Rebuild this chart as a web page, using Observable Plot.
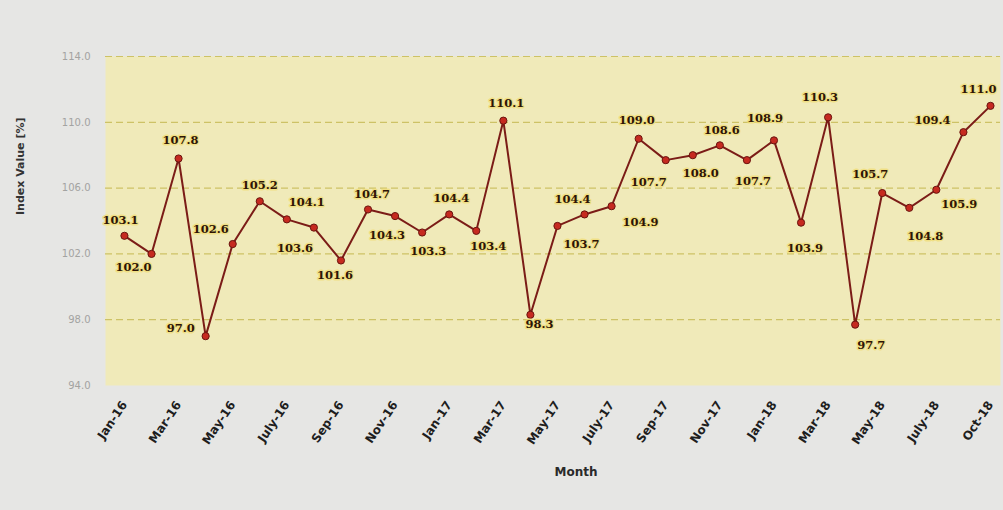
<!DOCTYPE html>
<html><head><meta charset="utf-8">
<script src="https://cdn.jsdelivr.net/npm/d3@7"></script>
<script src="https://cdn.jsdelivr.net/npm/@observablehq/plot@0.6"></script>
<style>
html,body{margin:0;padding:0;background:#e6e6e4;}
#chart{width:1003px;height:510px;position:relative;}
</style></head><body><div id="chart"></div>
<script>
// Monthly index values (33 months)
const values = [103.1, 102.0, 107.8, 97.0, 102.6, 105.2, 104.1, 103.6, 101.6, 104.7, 104.3, 103.3, 104.4, 103.4, 110.1, 98.3, 103.7, 104.4, 104.9, 109.0, 107.7, 108.0, 108.6, 107.7, 108.9, 103.9, 110.3, 97.7, 105.7, 104.8, 105.9, 109.4, 111.0];
// Tick labels shown on every second month
const tickLabels = ["Jan-16", "Mar-16", "May-16", "July-16", "Sep-16", "Nov-16", "Jan-17", "Mar-17", "May-17", "July-17", "Sep-17", "Nov-17", "Jan-18", "Mar-18", "May-18", "July-18", "Oct-18"];
const yTicks = [94, 98, 102, 106, 110, 114];
// Label placement offsets relative to each point
const labelDx = [-4, -18, 2, -25, -22, 0, 20, -19, -6, 4, -8, 6, 2, 12, 3, 9, 24, -12, 29, -2, -17, 8, 2, 6, -9, 4, -8, 16, -12, 16, 23, -31, -12];
const labelDy = [-15, 13, -18, -8, -15, -16, -17, 21, 15, -15, 19, 19, -16, 15, -17, 10, 18, -15, 16, -18, 22, 18, -15, 21, -22, 26, -20, 21, -19, 28, 15, -12, -17];

const idx = d3.range(values.length);

const labelMarks = idx.map(i => Plot.text([i], {
  x: d => d, y: d => values[d], text: d => values[d].toFixed(1),
  dx: labelDx[i], dy: labelDy[i],
  fontFamily: "DejaVu Serif", fontWeight: "bold", fontSize: 11.5,
  fill: "#2e1405", stroke: "#f0dc70", strokeWidth: 3, strokeOpacity: 0.7
}));

const chart = Plot.plot({
  width: 1003, height: 510,
  marginLeft: 105, marginRight: 3, marginTop: 56, marginBottom: 125,
  style: {background: "transparent", fontFamily: "DejaVu Sans"},
  x: {type: "linear", domain: [-0.7, 32.37]},
  y: {domain: [94, 114]},
  marks: [
    Plot.frame({fill: "#f0eab9", stroke: null}),
    Plot.ruleY([98, 102, 106, 110, 114], {stroke: "#cdc266", strokeDasharray: "7,4", strokeWidth: 1.2}),
    Plot.axisY({ticks: yTicks, tickFormat: d => d.toFixed(1), tickSize: 0, tickPadding: 15, fill: "#a3a3a1", fontSize: 10, label: null}),
    Plot.axisX({ticks: d3.range(0, values.length, 2), tickFormat: d => tickLabels[d / 2], tickSize: 0, tickPadding: 17, tickRotate: -56, fontSize: 12, fontWeight: "bold", fill: "#1e1e1e", label: null}),
    Plot.line(idx, {x: d => d, y: d => values[d], stroke: "#7b1c17", strokeWidth: 2}),
    Plot.dot(idx, {x: d => d, y: d => values[d], r: 3.6, fill: "#c62a20", stroke: "#6a150f", strokeWidth: 1}),
    ...labelMarks,
    Plot.text(["Month"], {frameAnchor: "bottom", dx: 23, dy: 90, fontSize: 12, fontWeight: "bold", fill: "#2a2a2a"}),
    Plot.text(["Index Value [%]"], {frameAnchor: "left", dx: -85, dy: -6, rotate: -90, fontSize: 11, fontWeight: "bold", fill: "#333"})
  ]
});
document.getElementById("chart").appendChild(chart);
</script>
</body></html>
